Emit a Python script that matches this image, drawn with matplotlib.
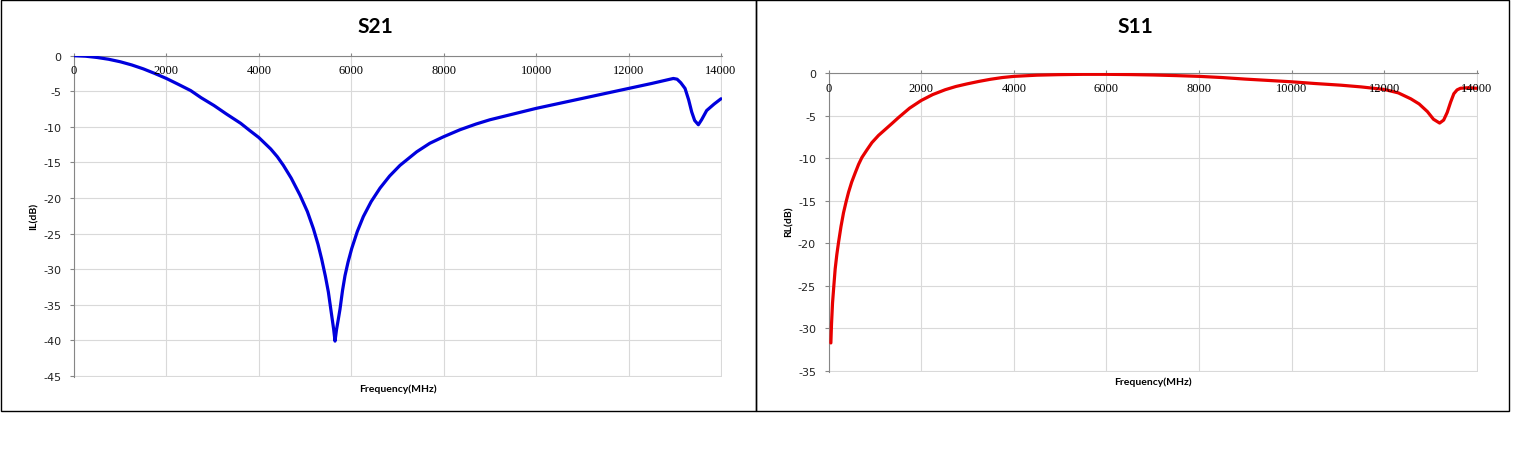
import matplotlib
matplotlib.use("Agg")
import matplotlib.pyplot as plt
from matplotlib.patches import Rectangle

plt.rcParams["axes.unicode_minus"] = False

# S21 (IL)
freq_s21 = [0, 250, 500, 750, 1000, 1250, 1500, 1750, 2000, 2250, 2525, 2750, 3030, 3300,
            3607, 3800, 4000, 4256, 4400, 4530, 4700, 4891, 5050, 5180, 5280, 5360, 5440,
            5504, 5576, 5620, 5648, 5680, 5720, 5756, 5810, 5864, 5930, 6009, 6130, 6261,
            6430, 6622, 6830, 7055, 7416, 7700, 7992, 8353, 8700, 9000, 9500, 10000,
            10500, 11000, 11500, 12000, 12500, 12800, 12900, 12969, 13050, 13130, 13222,
            13300, 13366, 13430, 13510, 13580, 13690, 13850, 14000]
il_db = [0, -0.07, -0.25, -0.5, -0.85, -1.3, -1.85, -2.5, -3.2, -4.0, -4.9, -5.9, -7.0, -8.2,
         -9.5, -10.5, -11.5, -13.1, -14.2, -15.4, -17.2, -19.6, -21.9, -24.3, -26.5, -28.6,
         -31.0, -33.2, -36.5, -38.5, -40.1, -38.5, -37.0, -35.6, -33.0, -30.9, -29.0, -27.1,
         -24.7, -22.6, -20.5, -18.6, -16.9, -15.4, -13.5, -12.3, -11.4, -10.4, -9.6, -9.0,
         -8.2, -7.4, -6.7, -6.0, -5.3, -4.6, -3.9, -3.45, -3.3, -3.2, -3.3, -3.8, -4.6,
         -6.2, -7.9, -9.1, -9.7, -9.0, -7.7, -6.8, -6.05]

# S11 (RL)
freq_s11 = [51, 65, 87, 115, 144, 180, 216, 270, 324, 380, 432, 500, 577, 650, 721, 830,
            937, 1080, 1225, 1370, 1512, 1750, 2000, 2250, 2520, 2750, 2987, 3250, 3500,
            3750, 4002, 4500, 4962, 5500, 6000, 6500, 7027, 7500, 8000, 8500, 8993, 9500,
            10000, 10500, 11066, 11500, 12000, 12300, 12571, 12750, 12929, 13060, 13193,
            13280, 13357, 13430, 13500, 13570, 13643, 13800, 14000]
rl_db = [-31.7, -29.5, -27.0, -25.0, -23.0, -21.3, -19.9, -18.0, -16.4, -15.1, -14.0, -12.8,
         -11.7, -10.7, -9.9, -9.0, -8.15, -7.3, -6.6, -5.9, -5.2, -4.1, -3.2, -2.5, -1.93,
         -1.55, -1.25, -0.95, -0.7, -0.5, -0.36, -0.22, -0.16, -0.12, -0.12, -0.15, -0.2,
         -0.27, -0.36, -0.5, -0.68, -0.84, -1.0, -1.2, -1.4, -1.6, -1.9, -2.3, -3.0, -3.6,
         -4.5, -5.4, -5.85, -5.5, -4.6, -3.4, -2.4, -1.95, -1.76, -1.7, -1.76]

xticks = [0, 2000, 4000, 6000, 8000, 10000, 12000, 14000]

W, H = 1513, 460
fig = plt.figure(figsize=(W / 100, H / 100), dpi=100)


def fx(px):
    return px / W


def fy(py):
    return 1 - py / H


# marcos de los dos paneles
for x0, x1 in [(0.5, 756), (756, 1509)]:
    fig.add_artist(Rectangle((fx(x0), fy(412)), fx(x1) - fx(x0), fy(0.5) - fy(412),
                             transform=fig.transFigure, fill=False, lw=1.0, ec="black"))


def panel(pos, f, v, color, ymin, title, ylabel, title_x, xlab_y, ylab_x, ylab_y):
    left, top, right, bottom = pos
    ax = fig.add_axes([fx(left), fy(bottom + 1), fx(right + 1) - fx(left), fy(top) - fy(bottom + 1)])
    ax.plot(f, v, color=color, lw=2.3, solid_capstyle="round", solid_joinstyle="round",
            zorder=3)
    # un poco de margen para que se vean las lineas de rejilla de los bordes
    ax.set_xlim(0, 14000 * (1 + 1 / (right - left)))
    ax.set_ylim(ymin * (1 + 1 / (bottom - top)), 0)
    ax.set_xticks(xticks)
    ax.set_yticks(range(ymin, 1, 5))
    ax.set_xticklabels([])
    ax.grid(True, color="#d9d9d9", lw=0.8)
    ax.set_axisbelow(True)
    for s in ["right", "bottom"]:
        ax.spines[s].set_visible(False)
    for s in ["left", "top"]:
        ax.spines[s].set_color("#868686")
        ax.spines[s].set_linewidth(0.8)
    ax.tick_params(axis="x", bottom=False, top=True, length=2, color="#868686")
    ax.tick_params(axis="y", length=3, color="#868686", pad=6, labelsize=8,
                   labelcolor="#222222")
    for t in xticks:
        ax.annotate(str(t), (t, 0), xytext=(0, -6), textcoords="offset points",
                    ha="center", va="top", fontsize=9, family="Liberation Serif")
    fig.text(fx(title_x), fy(27), title, ha="center", va="center",
             fontsize=15, fontweight="bold", family="Lato")
    fig.text(fx((left + right) / 2), fy(xlab_y), "Frequency(MHz)", ha="center",
             va="center", fontsize=7.5, fontweight="bold", family="Lato")
    fig.text(fx(ylab_x), fy(ylab_y), ylabel, ha="center", va="center", rotation=90,
             fontsize=7.5, fontweight="bold", family="Lato")
    return ax


panel((74, 56.7, 721, 377), freq_s21, il_db, "#0000dd", -45, "S21", "IL(dB)",
      375, 389, 34, 216)
panel((828.5, 74.3, 1477, 372), freq_s11, rl_db, "#e80000", -35, "S11", "RL(dB)",
      1135, 382, 789, 222)

fig.savefig("out.png", dpi=100)
